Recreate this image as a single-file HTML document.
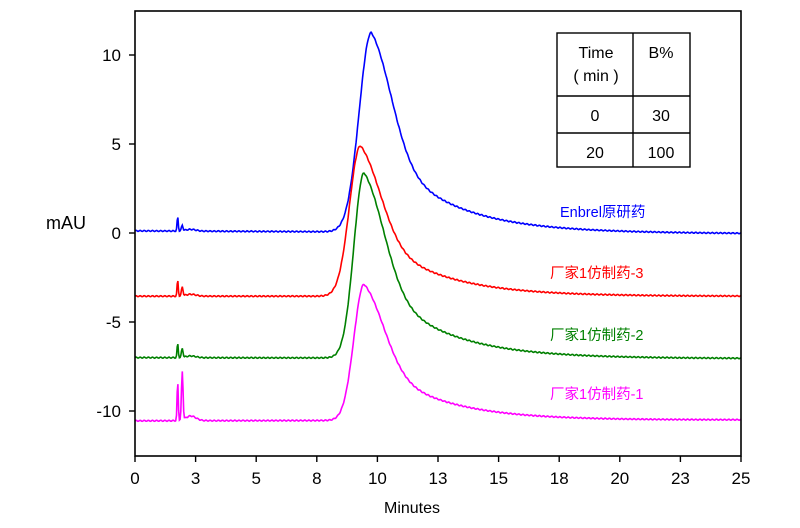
<!DOCTYPE html>
<html><head><meta charset="utf-8"><style>
html,body{margin:0;padding:0;background:#fff;}
svg text{font-family:"Liberation Sans","Noto Sans CJK SC",sans-serif;}
</style></head><body>
<svg id="s" width="800" height="523" viewBox="0 0 800 523" xmlns="http://www.w3.org/2000/svg">
<rect width="800" height="523" fill="#fff"/>
<g id="curves" fill="none" stroke-width="1.6"></g>
<rect x="135" y="11" width="606" height="445" fill="none" stroke="#000" stroke-width="1.6"/>
<g id="ticks" stroke="#000" stroke-width="1.4"></g>
<g font-size="17" fill="#000" text-anchor="end">
<text x="121" y="61">10</text><text x="121" y="150">5</text><text x="121" y="239">0</text>
<text x="121" y="328">-5</text><text x="121" y="417">-10</text>
</g>
<g font-size="17" fill="#000" text-anchor="middle" id="xl"></g>
<text x="412" y="513" font-size="16" text-anchor="middle">Minutes</text>
<text x="46" y="229" font-size="18">mAU</text>
<g font-size="14.5">
<text x="560" y="217" fill="#0000ff">Enbrel原研药</text>
<text x="550" y="278" fill="#ff0000">厂家1仿制药-3</text>
<text x="550" y="340" fill="#008000">厂家1仿制药-2</text>
<text x="550" y="399" fill="#ff00ff">厂家1仿制药-1</text>
</g>
<g stroke="#000" stroke-width="1.4" fill="none">
<rect x="557" y="33" width="133" height="134"/>
<line x1="633" y1="33" x2="633" y2="167"/>
<line x1="557" y1="96" x2="690" y2="96"/>
<line x1="557" y1="133" x2="690" y2="133"/>
</g>
<g font-size="16" text-anchor="middle">
<text x="596" y="58">Time</text><text x="596" y="81">( min )</text>
<text x="661" y="58">B%</text>
<text x="595" y="121">0</text><text x="661" y="121">30</text>
<text x="595" y="158">20</text><text x="661" y="158">100</text>
</g>
</svg>
<script>
var X=function(t){return 135+t*24.24;},Y=function(v){return 233-v*17.8;};
var tk=document.getElementById('ticks'),xl=document.getElementById('xl'),h='',l='';
var labs=['0','3','5','8','10','13','15','18','20','23','25'];
for(var i=0;i<=10;i++){var x=X(i*2.5);h+='<line x1="'+x+'" y1="456" x2="'+x+'" y2="462"/>';l+='<text x="'+x+'" y="484">'+labs[i]+'</text>';}
[10,5,0,-5,-10].forEach(function(v){h+='<line x1="129" y1="'+Y(v)+'" x2="135" y2="'+Y(v)+'"/>';});
tk.innerHTML=h;xl.innerHTML=l;
function shape(d,w){if(d<0)return Math.exp(-d*d/(2*w*w));return 0.5*Math.exp(-d*d/(2*0.85*0.85))+0.5*Math.exp(-d/2.6);}
function spike(t,a1,a2){return a1*Math.exp(-Math.pow((t-1.76)/0.035,2))+a2*Math.exp(-Math.pow((t-1.95)/0.045,2))+0.12*a1*Math.exp(-Math.pow((t-2.3)/0.3,2));}
var S=[['#0000ff',0.12,11.2,9.75,0.5,0.8,0.3,-0.15],['#ff0000',-3.55,8.45,9.3,0.45,0.9,0.5,0],['#008000',-7.0,10.4,9.45,0.42,0.8,0.5,-0.05],['#ff00ff',-10.55,7.65,9.45,0.42,2.2,2.7,0.05]];
var g='';
S.forEach(function(s){var p='';for(var t=0;t<=25;t+=0.03){var d=t-s[3];var v=s[1]+s[2]*shape(d,s[4])+spike(t,s[5],s[6])+s[7]*(t/25)+0.03*Math.sin(t*37);p+=(p?'L':'M')+X(t).toFixed(1)+','+Y(v).toFixed(1);}g+='<path stroke="'+s[0]+'" d="'+p+'"/>';});
document.getElementById('curves').innerHTML=g;
</script>
</body></html>
